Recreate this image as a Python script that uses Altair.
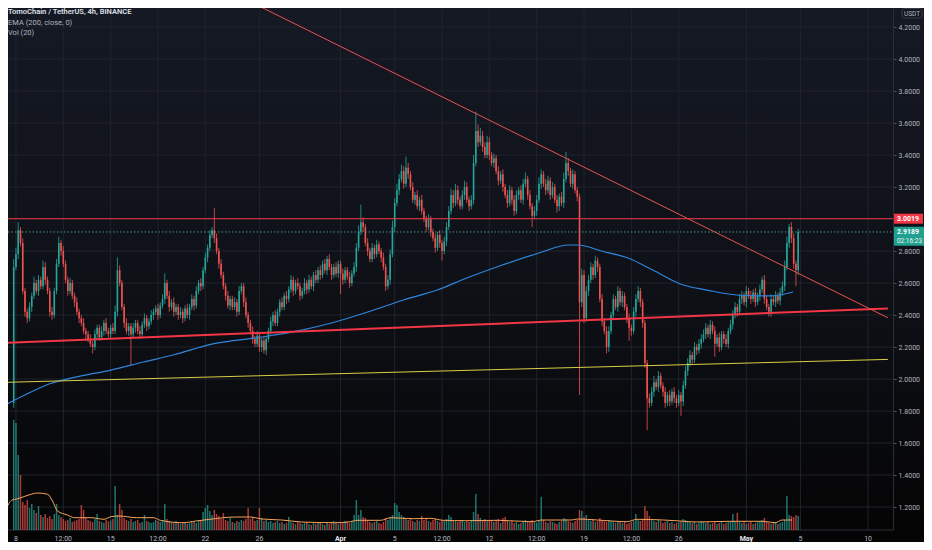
import altair as alt
import pandas as pd

# ---------------- data ----------------
first_open = 1.85
close = [
    2.70, 2.78, 2.93, 2.85, 2.55, 2.42, 2.38, 2.45, 2.52, 2.60,
    2.55, 2.62, 2.58, 2.70, 2.62, 2.55, 2.42, 2.40, 2.55, 2.72,
    2.85, 2.80, 2.72, 2.62, 2.55, 2.60, 2.52, 2.48, 2.42, 2.38,
    2.35, 2.30, 2.28, 2.25, 2.22, 2.20, 2.28, 2.32, 2.26, 2.30,
    2.35, 2.30, 2.28, 2.32, 2.30, 2.42, 2.68, 2.60, 2.45, 2.35,
    2.30, 2.33, 2.28, 2.32, 2.35, 2.30, 2.28, 2.34, 2.38, 2.33,
    2.36, 2.40, 2.42, 2.44, 2.40, 2.46, 2.50, 2.60, 2.52, 2.45,
    2.48, 2.42, 2.45, 2.40, 2.42, 2.38, 2.44, 2.40, 2.45, 2.50,
    2.46, 2.55, 2.60, 2.58, 2.68, 2.76, 2.82, 2.90, 2.93, 2.88,
    2.80, 2.72, 2.65, 2.58, 2.52, 2.46, 2.50, 2.45, 2.48, 2.42,
    2.55, 2.58, 2.48, 2.40, 2.35, 2.30, 2.25, 2.22, 2.27, 2.20,
    2.24, 2.18, 2.25, 2.30, 2.36, 2.40, 2.35, 2.42, 2.48, 2.45,
    2.52, 2.50, 2.56, 2.62, 2.55, 2.60, 2.58, 2.52, 2.55, 2.60,
    2.56, 2.62, 2.58, 2.65, 2.62, 2.68, 2.65, 2.72, 2.68, 2.75,
    2.70, 2.65, 2.70, 2.66, 2.72, 2.66, 2.62, 2.68, 2.64, 2.60,
    2.66, 2.70, 2.82, 2.92, 2.98, 2.95, 2.85, 2.80, 2.75, 2.82,
    2.78, 2.84, 2.80, 2.76, 2.70, 2.58, 2.62, 2.78, 2.95, 3.10,
    3.18, 3.25, 3.30, 3.22, 3.32, 3.28, 3.20, 3.12, 3.15, 3.08,
    3.12, 3.05, 3.00, 2.95, 3.00, 2.92, 2.88, 2.82, 2.90, 2.85,
    2.80, 2.86, 2.95, 3.05, 3.15, 3.10, 3.18, 3.12, 3.08, 3.15,
    3.20, 3.12, 3.08, 3.12, 3.35, 3.55, 3.48, 3.52, 3.45, 3.40,
    3.48, 3.40, 3.35, 3.38, 3.30, 3.24, 3.28, 3.20, 3.15, 3.10,
    3.18, 3.12, 3.05, 3.15, 3.18, 3.12, 3.22, 3.25, 3.15, 3.08,
    3.02, 3.05, 3.12, 3.22, 3.28, 3.22, 3.18, 3.24, 3.15, 3.20,
    3.12, 3.08, 3.14, 3.10, 3.25, 3.35, 3.30, 3.22, 3.28, 3.18,
    3.14, 2.48, 2.65, 2.38, 2.55, 2.62, 2.70, 2.65, 2.74, 2.70,
    2.50, 2.36, 2.30, 2.20, 2.30, 2.40, 2.50, 2.45, 2.55, 2.48,
    2.52, 2.45, 2.38, 2.32, 2.30, 2.42, 2.50, 2.55, 2.48, 2.35,
    2.10, 1.88, 1.85, 1.92, 1.98, 1.95, 2.02, 1.96, 1.92, 1.85,
    1.90, 1.86, 1.92, 1.88, 1.85, 1.90, 1.86, 1.96, 2.05, 2.10,
    2.15, 2.12, 2.20, 2.18, 2.22, 2.25, 2.28, 2.32, 2.28, 2.34,
    2.30, 2.22, 2.26, 2.20, 2.28, 2.25, 2.22, 2.30, 2.34, 2.40,
    2.45, 2.42, 2.50, 2.52, 2.48, 2.55, 2.52, 2.50, 2.54, 2.48,
    2.52, 2.56, 2.62, 2.50, 2.45, 2.42, 2.50, 2.48, 2.52, 2.49,
    2.54, 2.58, 2.70, 2.85, 2.95, 2.88, 2.72, 2.68, 2.919,
]
# upper / lower wick beyond the body, in cents
upper_wick = [
    5, 4, 5, 2, 3, 2, 2, 3, 2, 4,
    2, 3, 2, 4, 3, 2, 2, 3, 2, 3,
    4, 2, 3, 2, 2, 3, 2, 2, 3, 2,
    2, 3, 2, 2, 3, 2, 3, 2, 2, 3,
    2, 3, 2, 2, 3, 4, 8, 3, 2, 2,
    3, 2, 2, 3, 2, 2, 3, 2, 3, 2,
    2, 3, 2, 2, 3, 2, 3, 6, 2, 3,
    2, 3, 2, 2, 3, 2, 2, 3, 2, 3,
    2, 3, 2, 3, 2, 3, 2, 3, 2, 14,
    3, 2, 3, 2, 2, 3, 2, 2, 3, 2,
    3, 2, 2, 3, 2, 2, 3, 2, 3, 2,
    2, 3, 2, 2, 3, 2, 3, 2, 2, 3,
    2, 3, 2, 3, 2, 2, 3, 2, 2, 3,
    2, 3, 2, 2, 3, 2, 3, 2, 3, 2,
    3, 2, 2, 3, 2, 2, 3, 2, 2, 3,
    2, 3, 3, 4, 11, 3, 2, 3, 2, 3,
    2, 3, 2, 2, 3, 2, 3, 3, 4, 3,
    4, 3, 4, 3, 7, 3, 2, 3, 2, 3,
    2, 3, 2, 2, 3, 2, 2, 3, 2, 3,
    2, 3, 3, 3, 4, 3, 4, 3, 2, 3,
    4, 3, 2, 3, 5, 12, 4, 5, 3, 3,
    4, 3, 2, 3, 2, 3, 2, 3, 2, 3,
    3, 2, 3, 3, 2, 3, 3, 4, 2, 3,
    2, 3, 3, 4, 3, 2, 3, 3, 2, 3,
    2, 3, 2, 3, 4, 7, 3, 2, 3, 2,
    2, 2, 4, 3, 3, 3, 3, 2, 3, 2,
    2, 3, 2, 3, 3, 2, 3, 2, 3, 2,
    3, 2, 2, 3, 2, 3, 3, 3, 2, 2,
    2, 2, 3, 3, 4, 2, 3, 2, 2, 3,
    2, 3, 2, 3, 2, 3, 2, 3, 3, 3,
    3, 2, 3, 2, 3, 3, 3, 3, 2, 3,
    2, 3, 2, 3, 2, 2, 3, 2, 3, 3,
    3, 2, 3, 3, 2, 3, 2, 3, 2, 3,
    2, 3, 2, 3, 2, 2, 3, 2, 3, 2,
    3, 3, 4, 4, 2, 3, 3, 2, 2,
]
lower_wick = [
    3, 2, 3, 2, 2, 3, 3, 2, 3, 2,
    2, 3, 2, 2, 3, 2, 3, 3, 2, 2,
    2, 3, 2, 2, 3, 2, 2, 3, 2, 3,
    2, 2, 3, 2, 2, 4, 2, 3, 2, 2,
    3, 2, 2, 3, 2, 2, 3, 2, 2, 3,
    2, 3, 19, 2, 3, 2, 3, 2, 2, 3,
    2, 2, 3, 2, 3, 2, 2, 3, 2, 3,
    2, 3, 2, 3, 2, 3, 2, 2, 3, 2,
    3, 2, 2, 3, 2, 2, 3, 2, 2, 3,
    2, 3, 2, 2, 3, 2, 3, 2, 2, 3,
    2, 2, 3, 2, 3, 2, 3, 2, 2, 3,
    3, 2, 3, 2, 2, 3, 2, 2, 3, 2,
    2, 3, 2, 2, 3, 2, 2, 3, 2, 2,
    3, 2, 2, 3, 2, 2, 3, 2, 2, 3,
    2, 3, 2, 2, 3, 13, 3, 2, 2, 3,
    2, 2, 3, 2, 2, 3, 2, 3, 2, 2,
    3, 2, 2, 3, 2, 3, 2, 3, 2, 3,
    2, 3, 2, 3, 2, 3, 2, 2, 3, 2,
    3, 2, 2, 3, 2, 3, 2, 3, 2, 3,
    6, 2, 3, 2, 2, 3, 2, 3, 2, 2,
    3, 2, 3, 2, 3, 2, 3, 2, 3, 2,
    2, 3, 2, 3, 2, 3, 2, 3, 2, 3,
    2, 3, 3, 2, 3, 2, 3, 2, 3, 2,
    7, 2, 3, 2, 3, 2, 3, 2, 3, 2,
    2, 4, 3, 2, 3, 2, 3, 2, 3, 2,
    3, 58, 3, 3, 2, 3, 2, 3, 2, 3,
    2, 3, 2, 4, 3, 2, 3, 2, 3, 2,
    3, 2, 3, 8, 3, 2, 3, 2, 3, 3,
    3, 20, 3, 2, 3, 2, 3, 2, 3, 3,
    2, 3, 2, 3, 3, 2, 9, 3, 2, 3,
    2, 3, 2, 3, 2, 3, 2, 3, 2, 3,
    2, 8, 2, 3, 2, 3, 2, 3, 2, 3,
    2, 3, 2, 3, 2, 3, 2, 3, 2, 3,
    2, 3, 2, 3, 2, 3, 3, 2, 3, 2,
    3, 2, 3, 2, 3, 3, 3, 10, 3,
]
# volume (thousand TOMO)
volume = [
    1100, 1070, 750, 550, 280, 250, 300, 220, 260, 200,
    170, 240, 150, 130, 160, 120, 140, 110, 160, 260,
    150, 130, 110, 90, 100, 120, 80, 90, 100, 110,
    250, 200, 120, 100, 90, 80, 110, 160, 90, 80,
    70, 100, 85, 95, 110, 440, 150, 260, 200, 120,
    100, 90, 110, 80, 90, 100, 70, 80, 150, 90,
    80, 70, 80, 100, 90, 80, 100, 260, 110, 90,
    80, 70, 90, 80, 60, 70, 80, 60, 70, 90,
    80, 70, 90, 100, 180, 220, 250, 190, 150, 200,
    160, 140, 110, 170, 100, 90, 120, 80, 70, 90,
    80, 100, 90, 110, 220, 110, 130, 90, 100, 220,
    120, 90, 100, 80, 90, 70, 80, 90, 70, 80,
    60, 70, 130, 80, 70, 60, 80, 70, 60, 70,
    80, 60, 50, 70, 60, 80, 70, 60, 50, 70,
    60, 80, 90, 70, 60, 80, 70, 90, 80, 70,
    90, 150, 300, 150, 200, 130, 120, 90, 80, 70,
    80, 90, 70, 60, 80, 120, 100, 130, 150, 270,
    250, 180, 150, 130, 110, 100, 120, 90, 80, 100,
    90, 140, 100, 120, 90, 80, 100, 110, 90, 80,
    100, 90, 110, 150, 130, 100, 90, 80, 90, 100,
    80, 90, 80, 100, 180, 360, 160, 120, 100, 110,
    90, 90, 100, 80, 90, 110, 70, 120, 130, 100,
    80, 90, 70, 80, 60, 70, 90, 100, 80, 90,
    100, 80, 70, 90, 330, 100, 80, 70, 90, 80,
    70, 60, 80, 90, 120, 110, 90, 80, 70, 90,
    100, 200, 190, 130, 150, 100, 90, 110, 80, 90,
    120, 100, 90, 80, 100, 90, 80, 70, 80, 90,
    70, 80, 60, 70, 80, 90, 160, 100, 90, 110,
    240, 190, 140, 100, 90, 80, 100, 90, 70, 80,
    90, 70, 80, 60, 70, 80, 90, 110, 100, 90,
    80, 70, 80, 60, 70, 90, 80, 70, 80, 60,
    70, 80, 60, 70, 80, 60, 70, 80, 90, 160,
    90, 170, 80, 70, 90, 60, 70, 80, 60, 70,
    80, 90, 100, 120, 80, 70, 60, 70, 80, 60,
    70, 80, 100, 340, 150, 140, 130, 150, 140,
]

# EMA(200) (days since 8 Mar, price)
ema_day = [-0.80, 0.66, 2.49, 4.31, 7.02, 9.43, 11.62, 14.55, 18.20, 21.13,
           23.32, 26.24, 28.65, 31.14, 33.33, 35.75, 38.67, 40.86, 41.59, 43.27,
           45.25, 47.08, 49.12, 51.10, 53.29, 55.70, 57.46]
ema_val = [1.8375, 1.90, 1.97, 2.01, 2.056, 2.106, 2.15, 2.219, 2.2625, 2.306,
           2.35, 2.425, 2.494, 2.556, 2.631, 2.706, 2.7875, 2.8375, 2.8375, 2.80,
           2.756, 2.681, 2.594, 2.556, 2.525, 2.519, 2.544]

# Vol MA(20)
vma_day = [-0.80, -0.29, 0.07, 0.66, 1.61, 2.34, 2.70, 3.07, 3.80, 4.31,
           5.56, 6.51, 7.02, 7.60, 8.92, 10.16, 10.67, 12.35, 13.30, 14.33,
           16.23, 17.25, 18.20, 19.66, 21.13, 23.54, 24.56, 25.29, 26.97, 27.70,
           29.39, 30.63, 31.58, 33.26, 35.67, 38.16, 38.89, 41.08, 41.52, 42.98,
           45.18, 45.91, 47.88, 49.12, 50.29, 52.78, 55.19, 56.14, 56.65, 57.38]
vma_val = [190, 300, 310, 337, 370, 357, 290, 190, 150, 123,
           123, 107, 133, 140, 123, 123, 97, 73, 90, 107,
           130, 130, 110, 100, 80, 73, 80, 97, 97, 123,
           113, 117, 97, 93, 97, 83, 100, 100, 110, 100,
           83, 107, 100, 90, 80, 87, 87, 73, 100, 100]

# drawn lines
resistance = 3.0019
last_price = 2.9189
line_days = [-0.80, 64.47]
support_prices = [2.226, 2.441]
yellow_prices = [1.979, 2.1225]
down_days = [17.06, 64.47]
down_prices = [4.369, 2.3825]

x_ticks = [0, 3.5, 7, 10.5, 14, 18, 24, 28, 31.5, 35, 38.5, 42, 45.5, 49, 54, 58, 63]
x_labels = ["8", "12:00", "15", "12:00", "22", "26", "Apr", "5", "12:00", "12",
            "12:00", "19", "12:00", "26", "May", "5", "10"]
month_ticks = [24, 54]
month_labels = ["Apr", "May"]
price_ticks = [4.2, 4.0, 3.8, 3.6, 3.4, 3.2, 2.8, 2.6, 2.4, 2.2, 2.0, 1.8, 1.6, 1.4, 1.2]
grid_prices = price_ticks + [3.0]

# ---------------- build table ----------------
n = min(len(close), len(upper_wick), len(lower_wick), len(volume))
times = pd.date_range("2021-03-07 20:00", periods=n, freq="4h")
day = list((times - pd.Timestamp("2021-03-08")) / pd.Timedelta(days=1))
opens = [first_open] + close[: n - 1]
rows = []
for i in range(n):
    o, c = opens[i], close[i]
    rows.append({
        "day": day[i], "open": o, "close": c,
        "high": max(o, c) + upper_wick[i] / 100.0,
        "low": min(o, c) - lower_wick[i] / 100.0,
        "volume": volume[i],
        "dir": "up" if c >= o else "down",
    })
df = pd.DataFrame(rows)

GREEN, RED = "#26a69a", "#ef5350"
GRID = "#20232d"
FONT = "Roboto"
W, H = 885, 522
TOTAL_W, TOTAL_H = 916, 534
xs = alt.Scale(domain=[-0.2193, 64.474], nice=False, zero=False)
ys = alt.Scale(domain=[1.05625, 4.31875], nice=False, zero=False)
vs = alt.Scale(domain=[0, 5220], nice=False, zero=True)
col = alt.Color("dir:N", scale=alt.Scale(domain=["up", "down"], range=[GREEN, RED]), legend=None)

yaxis = alt.Axis(orient="right", values=price_ticks, format=".4f", title=None, grid=False,
                 labelAlign="left", labelBaseline="middle", labelFont=FONT, labelFontSize=7,
                 labelColor="#b2b5be", tickSize=3, tickColor="#50535e", labelPadding=2,
                 domain=True, domainColor="#2a2e39", labelOverlap=False, labelFlush=False, zindex=1)

one = pd.DataFrame({"k": [0]})

bg = alt.Chart(one).mark_rect(
    color=alt.LinearGradient(
        gradient="linear",
        stops=[alt.GradientStop(color="#151924", offset=0),
               alt.GradientStop(color="#0e1016", offset=0.55),
               alt.GradientStop(color="#040404", offset=1)],
        x1=0, x2=0, y1=0, y2=1)
).encode(x=alt.value(0), x2=alt.value(TOTAL_W), y=alt.value(0), y2=alt.value(TOTAL_H))

X = alt.X("day:Q", scale=xs, axis=None)

grid_v = alt.Chart(pd.DataFrame({"day": x_ticks})).mark_rule(color=GRID, strokeWidth=1).encode(
    x=X, y=alt.value(0), y2=alt.value(H))
grid_h = alt.Chart(pd.DataFrame({"price": grid_prices})).mark_rule(color=GRID, strokeWidth=1).encode(
    y=alt.Y("price:Q", scale=ys, axis=yaxis), x=alt.value(0), x2=alt.value(W))
bottom_line = alt.Chart(one).mark_rule(color="#2a2e39", strokeWidth=1).encode(
    x=alt.value(0), x2=alt.value(W), y=alt.value(H))
xlab = alt.Chart(pd.DataFrame({"day": x_ticks, "t": x_labels})).transform_filter(
    "datum.t != 'Apr' && datum.t != 'May'").mark_text(
    font=FONT, fontSize=7, color="#b8bbc4", align="center", baseline="middle").encode(
    x=X, y=alt.value(H + 8.5), text="t:N")
xlab_m = alt.Chart(pd.DataFrame({"day": month_ticks, "t": month_labels})).mark_text(
    font=FONT, fontSize=7, fontWeight="bold", color="#e6e8ee", align="center", baseline="middle").encode(
    x=X, y=alt.value(H + 8.5), text="t:N")
grid_group = alt.layer(grid_v, grid_h, bottom_line, xlab, xlab_m)

vol_bars = alt.Chart(df).mark_bar(size=1.5, opacity=0.7, orient="vertical", clip=True).encode(
    x=X, y=alt.Y("volume:Q", scale=vs, axis=None), color=col)
vol_ma = alt.Chart(pd.DataFrame({"day": vma_day, "v": vma_val})).mark_line(
    color="#f7a35c", strokeWidth=1, interpolate="monotone", clip=True).encode(
    x=X, y=alt.Y("v:Q", scale=vs, axis=None))
vol_group = alt.layer(vol_bars, vol_ma)

wicks = alt.Chart(df).mark_rule(strokeWidth=0.8, clip=True).encode(
    x=X, y=alt.Y("low:Q", scale=ys, axis=None), y2="high:Q", color=col)
bodies = alt.Chart(df).mark_bar(size=1.6, orient="vertical", clip=True).encode(
    x=X, y=alt.Y("open:Q", scale=ys, axis=None), y2="close:Q", color=col)
ema = alt.Chart(pd.DataFrame({"day": ema_day, "p": ema_val})).mark_line(
    color="#2e86de", strokeWidth=1.2, interpolate="monotone", clip=True).encode(
    x=X, y=alt.Y("p:Q", scale=ys, axis=None))
support = alt.Chart(pd.DataFrame({"day": line_days, "p": support_prices})).mark_line(
    color="#f23645", strokeWidth=2, clip=True).encode(x=X, y=alt.Y("p:Q", scale=ys, axis=None))
yellow = alt.Chart(pd.DataFrame({"day": line_days, "p": yellow_prices})).mark_line(
    color="#d8cf45", strokeWidth=1, clip=True).encode(x=X, y=alt.Y("p:Q", scale=ys, axis=None))
down = alt.Chart(pd.DataFrame({"day": down_days, "p": down_prices})).mark_line(
    color="#e8534f", strokeWidth=1, clip=True).encode(x=X, y=alt.Y("p:Q", scale=ys, axis=None))
res_line = alt.Chart(pd.DataFrame({"p": [resistance]})).mark_rule(color="#f23645", strokeWidth=1).encode(
    y=alt.Y("p:Q", scale=ys, axis=None), x=alt.value(0), x2=alt.value(W))
last_line = alt.Chart(pd.DataFrame({"p": [last_price]})).mark_rule(
    color="#5fb3a8", strokeWidth=1, strokeDash=[1.5, 2], opacity=0.8).encode(
    y=alt.Y("p:Q", scale=ys, axis=None), x=alt.value(0), x2=alt.value(W))

res_badge = alt.Chart(pd.DataFrame({"p": [resistance]})).mark_rule(
    color="#f23645", strokeWidth=10, strokeCap="butt").encode(
    y=alt.Y("p:Q", scale=ys, axis=None), x=alt.value(885), x2=alt.value(915))
res_text = alt.Chart(pd.DataFrame({"p": [resistance], "t": ["3.0019"]})).mark_text(
    font=FONT, fontSize=7, fontWeight="bold", color="#ffffff", align="center", baseline="middle").encode(
    y=alt.Y("p:Q", scale=ys, axis=None), x=alt.value(900), text="t:N")
last_badge = alt.Chart(pd.DataFrame({"p": [last_price]})).mark_rule(
    color="#22a08f", strokeWidth=19, strokeCap="butt", yOffset=4.3).encode(
    y=alt.Y("p:Q", scale=ys, axis=None), x=alt.value(885), x2=alt.value(921))
last_text = alt.Chart(pd.DataFrame({"p": [last_price], "t": ["2.9189"]})).mark_text(
    font=FONT, fontSize=7, fontWeight="bold", color="#ffffff", align="center", baseline="middle").encode(
    y=alt.Y("p:Q", scale=ys, axis=None), x=alt.value(900), text="t:N")
timer_text = alt.Chart(pd.DataFrame({"p": [last_price], "t": ["02:16:23"]})).mark_text(
    font=FONT, fontSize=6.5, color="#e8f5f3", align="center", baseline="middle", yOffset=8.7).encode(
    y=alt.Y("p:Q", scale=ys, axis=None), x=alt.value(901.5), text="t:N")

price_group = alt.layer(wicks, bodies, ema, support, yellow, down, res_line, last_line,
                        res_badge, res_text, last_badge, last_text, timer_text)

def label(txt, y, color, size, weight="normal"):
    return alt.Chart(pd.DataFrame({"t": [txt]})).mark_text(
        font=FONT, fontSize=size, fontWeight=weight, color=color, align="left", baseline="middle"
    ).encode(x=alt.value(0), y=alt.value(y), text="t:N")

title1 = label("TomoChain / TetherUS, 4h, BINANCE", 4, "#dfe1e8", 7.5, 600)
title2 = label("EMA (200, close, 0)", 14.7, "#b2b5be", 7.5)
title3 = label("Vol (20)", 25.3, "#b2b5be", 7.5)

usdt_box = alt.Chart(one).mark_rect(fill="#131722", stroke="#434651", strokeWidth=0.8, cornerRadius=2).encode(
    x=alt.value(894), x2=alt.value(914), y=alt.value(0.5), y2=alt.value(10))
usdt_text = alt.Chart(pd.DataFrame({"t": ["USDT"]})).mark_text(
    font=FONT, fontSize=6.5, color="#b2b5be", align="center", baseline="middle").encode(
    x=alt.value(904), y=alt.value(5.5), text="t:N")

chart = alt.layer(
    bg, grid_group, vol_group, price_group, title1, title2, title3, usdt_box, usdt_text
).resolve_scale(y="independent").properties(
    width=W, height=H,
    autosize=alt.AutoSizeParams(type="none"),
    padding={"left": 0, "top": 0, "right": TOTAL_W - W, "bottom": TOTAL_H - H},
    background="#0b0d12",
).configure_view(stroke=None)

chart.save("out.html", embed_options={"renderer": "svg", "actions": False})
